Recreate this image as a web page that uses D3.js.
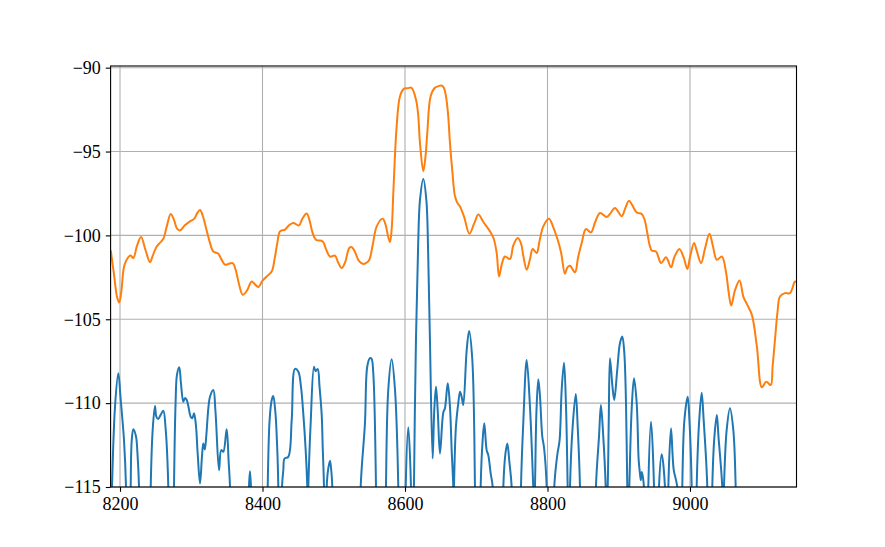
<!DOCTYPE html>
<meta charset="utf-8">
<style>
  body { margin: 0; background: #fff; }
  .grid line { stroke: #b0b0b0; stroke-width: 1.1px; }
  .line { fill: none; stroke-width: 2px; stroke-linejoin: round; }
  .tick text { font-family: "Liberation Serif", "DejaVu Serif", serif; font-size: 18px; fill: #000; }
</style>
<body>
<script src="https://d3js.org/d3.v7.min.js"></script>
<script>
  // tick labels
  var xTicks = [8200, 8400, 8600, 8800, 9000];
  var yTicks = [-115, -110, -105, -100, -95, -90];

  // blue series: [frequency, level]; values below -115 fall outside the axes
  var blueSeries = [
    [8186, -122], [8188.8, -115], [8193, -110.2], [8197.6, -108.22], [8201, -109.8], [8203.8, -111.2], [8205.6, -112.2], [8208.4, -115], [8209.5, -121],
    [8214, -121], [8215, -115], [8216.5, -112.2], [8218.7, -111.56], [8222.5, -112.0], [8224.5, -113], [8226.7, -115], [8228, -121],
    [8242, -121], [8243.1, -115], [8246, -111.5], [8249.1, -110.17], [8251, -110.8], [8253.7, -110.95], [8257, -110.7], [8260.8, -110.45], [8264, -111.5], [8267.8, -115], [8269, -121],
    [8274.8, -121], [8275.8, -115], [8278, -110], [8280, -108.3], [8283.2, -107.86], [8285.5, -108.8], [8288.8, -109.92], [8291, -109.7], [8293.5, -109.8],
    [8296, -110.2], [8299.2, -110.81], [8301.5, -110.9], [8303.9, -110.6], [8306.5, -111.3], [8309, -113], [8312.3, -114.79], [8315, -113.2], [8316.9, -112.4],
    [8319, -112.76], [8321, -112], [8324, -110.3], [8326.3, -109.62], [8331, -109.22], [8334, -110.5], [8339, -114.0], [8342, -112.8], [8345, -112.9],
    [8349.7, -111.56], [8352.5, -113.5], [8354.4, -115], [8356, -121],
    [8379.8, -121], [8381, -115], [8382.4, -114.06], [8383.8, -115], [8385, -121],
    [8406, -121], [8407.3, -115], [8410, -111], [8413, -109.8], [8415.1, -109.58], [8418, -110.5], [8420.5, -112.5], [8422.2, -115], [8423.5, -121],
    [8426.5, -121], [8427.4, -115], [8429.2, -114.0], [8431, -113.3], [8436.2, -113.2], [8441, -111.0], [8445.6, -107.96], [8450.2, -108.12], [8454, -109.02],
    [8457.2, -110.6], [8460.6, -112.8], [8462.9, -115], [8463.6, -116.5],
    [8464.3, -115], [8467.6, -111.2], [8472.3, -107.83], [8474.5, -108.1], [8477.5, -107.96], [8480, -109], [8483.1, -110.71], [8484.5, -112.6], [8486.3, -115], [8487.5, -121],
    [8489, -121], [8490.1, -115], [8492, -114], [8494.7, -113.44], [8496.5, -114], [8498, -115], [8499, -121],
    [8536.8, -121], [8537.8, -115], [8543.8, -111.2], [8547, -107.83], [8550.8, -107.32], [8553, -107.35], [8555.5, -108.22], [8559.3, -115], [8560.5, -121],
    [8572.3, -121], [8573.3, -115], [8576.5, -109.22], [8581.3, -107.38], [8586, -109.22], [8590.6, -115], [8591.8, -121],
    [8600, -121], [8601, -115], [8604.6, -111.44], [8608.4, -115], [8609.4, -121],
    [8611.6, -121], [8612.6, -115], [8615.4, -106.2], [8618.5, -100.5], [8621, -97.9], [8625.7, -96.63], [8630, -97.9], [8632.5, -101], [8635, -106.2],
    [8638.8, -113.3], [8641, -110.5], [8643.5, -109.02], [8646, -110.5], [8649.1, -113.0], [8653.7, -110.57], [8656.1, -110.3], [8660, -108.82],
    [8663.1, -110.2], [8665.5, -112.8], [8667.8, -115], [8668.3, -117],
    [8668.8, -115], [8671.5, -111.41], [8674.8, -110.0], [8677.2, -109.32], [8679.5, -109.62], [8681.8, -110.11], [8686.6, -106.83], [8690, -105.7],
    [8694.5, -107.43], [8698.2, -115], [8699.3, -121],
    [8705.2, -121], [8706.2, -115], [8709, -112.2], [8711.3, -111.2], [8714.6, -112.8], [8716.9, -113.1], [8720.3, -114.2], [8723.1, -115], [8724, -121],
    [8737, -121], [8738, -115], [8741, -113], [8743.6, -112.4], [8746.5, -113.5], [8749.7, -115], [8750.7, -121],
    [8761.8, -121], [8762.8, -115], [8766, -111.2], [8770.8, -107.43], [8775.4, -110.2], [8780, -115], [8781.2, -116.5],
    [8782.4, -115], [8784.5, -110.5], [8787.1, -108.58], [8789.5, -109.62], [8792.7, -112.0], [8795, -112.6], [8798.9, -115], [8800, -121],
    [8808.5, -121], [8809.5, -115], [8813.7, -113.1], [8817, -112.2], [8819.9, -109.22], [8823.2, -107.59], [8826, -110.2], [8828.3, -115], [8829.4, -118],
    [8830.6, -121], [8831.6, -115], [8835.3, -111.41], [8839.7, -109.46], [8842.4, -111.41], [8845.6, -115], [8846.6, -121],
    [8867, -121], [8868, -115], [8872.3, -112.0], [8875, -110.11], [8878.3, -112], [8881.7, -115], [8882.5, -117],
    [8884.5, -115], [8886, -111], [8887.7, -107.32], [8891.2, -109.02], [8893.7, -109.81], [8897.9, -108.02], [8901.7, -106.43], [8905, -106.03],
    [8907.8, -107.0], [8910.2, -110.0], [8912, -115], [8913.4, -117],
    [8914.8, -115], [8918.1, -110.41], [8921.4, -108.52], [8925.2, -110.0], [8928, -113.4], [8929.8, -114.2], [8931, -114.6], [8932.3, -114.1], [8935.4, -115], [8936.4, -121],
    [8940.5, -121], [8941.5, -115], [8945.3, -111.11], [8949.5, -115], [8950.5, -121],
    [8955.5, -121], [8956.5, -115], [8960.3, -113.04], [8964.9, -115], [8965.9, -121],
    [8968.6, -121], [8969.6, -115], [8973.4, -111.5], [8975.5, -113], [8977.2, -114.0], [8982.2, -115], [8983.2, -121],
    [8988.2, -121], [8989.2, -115], [8992.2, -111.0], [8996.8, -109.62], [8999.2, -111.0], [9002.4, -115], [9003.4, -121],
    [9008.4, -121], [9009.4, -115], [9013, -111.0], [9016.4, -109.38], [9019.2, -111.0], [9024.3, -115], [9025.3, -121],
    [9030.3, -121], [9031.3, -115], [9034.3, -112.0], [9037.7, -110.71], [9040, -112.0], [9045.3, -115], [9046.3, -118],
    [9047.7, -115], [9051.5, -111.6], [9056.1, -110.31], [9060.8, -111.6], [9064.1, -115], [9065.1, -121],
    [9146, -121], [9150, -114.8]
  ];

  // orange series: [frequency, level]
  var orangeSeries = [
    [8187, -100.9], [8191.5, -102.3], [8196, -103.7], [8199, -104.0], [8202, -103.3], [8206, -101.8], [8211.7, -101.3], [8215, -101.2], [8218.7, -101.35],
    [8224, -100.6], [8229.5, -100.1], [8236, -100.9], [8242.1, -101.6], [8246, -101.2], [8251.5, -100.66], [8256, -100.45], [8260.8, -100.2], [8266, -99.4],
    [8271.2, -98.72], [8276, -99.1], [8280, -99.6], [8284.2, -99.7], [8291, -99.4], [8298.2, -99.16], [8304.3, -99.0], [8308, -98.7], [8312.3, -98.48],
    [8316, -98.8], [8321, -99.6], [8326, -100.4], [8331, -100.96], [8338, -101.09], [8342, -101.4], [8347.4, -101.75], [8352, -101.7], [8358.2, -101.65],
    [8362, -102.0], [8367, -102.9], [8372.2, -103.54], [8378, -103.3], [8384.8, -102.75], [8389, -102.9], [8394.1, -103.08], [8400, -102.7], [8405.9, -102.45],
    [8412.9, -102.15], [8417, -101.4], [8421, -100.4], [8424.6, -99.76], [8431.6, -99.66], [8437, -99.4], [8443.2, -99.26], [8451.2, -99.4], [8456, -99.0],
    [8462, -98.7], [8466, -99.1], [8470, -99.8], [8475, -100.26], [8484.5, -100.36], [8489, -100.8], [8494.7, -101.26], [8501.7, -101.21], [8506, -101.6],
    [8511.2, -101.95], [8516, -101.6], [8521.8, -100.75], [8525.2, -100.7], [8530, -101.0], [8535, -101.5], [8541.5, -101.7], [8547, -101.6], [8550, -101.45],
    [8555, -100.5], [8560.3, -99.46], [8568.7, -99.0], [8573, -99.4], [8576, -100.0], [8579, -100.4], [8581.5, -99.5], [8583.6, -97.47], [8588.3, -93.5],
    [8593, -91.7], [8598.6, -91.25], [8604, -91.22], [8609.2, -91.2], [8615.4, -91.9], [8618.5, -92.8], [8621, -94.48], [8625.7, -96.18], [8629, -95.2],
    [8631.3, -93.88], [8636, -91.7], [8642, -91.2], [8647, -91.1], [8651.5, -91.06], [8654.5, -91.2], [8657.5, -91.7], [8660.5, -92.8], [8663.1, -94.48],
    [8666.5, -96.2], [8670.2, -97.67], [8674, -98.1], [8677.2, -98.27], [8683, -98.9], [8690.4, -99.9], [8697, -99.3], [8703, -98.76], [8710, -99.2],
    [8719.3, -99.76], [8724.5, -100.2], [8728.7, -101.05], [8732, -102.45], [8736, -101.7], [8740.3, -101.26], [8747.3, -101.41], [8752, -100.6], [8758.2, -100.16],
    [8763, -100.5], [8766, -101.2], [8770.8, -102.05], [8775, -101.5], [8779.2, -100.81], [8784.8, -101.05], [8789, -100.3], [8794.1, -99.46], [8802.1, -99.0],
    [8808, -99.5], [8814.3, -100.26], [8819, -101.0], [8824.5, -102.29], [8828, -101.9], [8831.6, -101.81], [8838.6, -102.2], [8843, -101.3], [8848, -100.45],
    [8854, -99.62], [8861, -99.82], [8867, -99.2], [8873.7, -98.66], [8883.1, -98.9], [8888, -98.7], [8894.7, -98.36], [8904.2, -98.86], [8909, -98.4],
    [8914.4, -97.93], [8919, -98.2], [8925.2, -98.63], [8932.3, -98.72], [8936.5, -99.1], [8940.1, -99.86], [8943.5, -100.6], [8946.3, -100.9], [8952.3, -100.96],
    [8959.4, -101.65], [8966.4, -101.3], [8973.4, -101.9], [8978, -101.3], [8985.1, -100.81], [8991, -101.3], [8996.3, -102.0], [9000, -101.3], [9005.7, -100.45],
    [9010, -101.0], [9015.6, -101.65], [9021, -100.8], [9027.3, -99.9], [9032, -100.6], [9037.7, -101.45], [9044.7, -101.26], [9050.8, -102.25], [9054, -103.3],
    [9057.8, -104.18], [9063, -103.3], [9069.5, -102.69], [9075.1, -103.68], [9080, -104.1], [9086.9, -104.74], [9093.9, -106.63], [9100.9, -109.06],
    [9107, -108.72], [9113.3, -108.92], [9116, -107.8], [9119.3, -106.23], [9123, -104.5], [9126.3, -103.64], [9133.3, -103.44], [9140.3, -103.44],
    [9147.5, -102.75], [9150, -102.8]
  ];

  // figure and axes box
  var W = 885, H = 547;
  var margin = { top: 66, right: 88.5, bottom: 60, left: 110.6 },
    width = W - margin.left - margin.right,
    height = H - margin.top - margin.bottom;

  var x = d3.scaleLinear().domain([8186.8, 9149.5]).range([0, width]);
  var y = d3.scaleLinear().domain([-115, -89.9]).range([height, 0]);

  var svg = d3.select("body").append("svg")
    .attr("width", W)
    .attr("height", H)
    .append("g")
    .attr("transform", "translate(" + margin.left + "," + margin.top + ")");

  svg.append("defs").append("clipPath").attr("id", "clip")
    .append("rect").attr("width", width).attr("height", height);

  // grid lines
  svg.append("g").attr("class", "grid")
    .selectAll("line").data(xTicks).enter().append("line")
    .attr("x1", function(d) { return x(d); }).attr("x2", function(d) { return x(d); })
    .attr("y1", 0).attr("y2", height);
  svg.append("g").attr("class", "grid")
    .selectAll("line").data(yTicks).enter().append("line")
    .attr("y1", function(d) { return y(d); }).attr("y2", function(d) { return y(d); })
    .attr("x1", 0).attr("x2", width);

  var line = d3.line()
    .curve(d3.curveCatmullRom.alpha(0.5))
    .x(function(d) { return x(d[0]); })
    .y(function(d) { return y(d[1]); });

  var plot = svg.append("g").attr("clip-path", "url(#clip)");
  plot.append("path").datum(blueSeries).attr("class", "line")
    .attr("stroke", "#1f77b4").attr("d", line);
  plot.append("path").datum(orangeSeries).attr("class", "line")
    .attr("stroke", "#ff7f0e").attr("d", line);

  // axes
  var minus = function(d) { return d < 0 ? "\u2212" + Math.abs(d) : d; };
  var xAxis = svg.append("g")
    .attr("transform", "translate(0," + height + ")")
    .call(d3.axisBottom(x).tickValues(xTicks).tickSize(4.8).tickPadding(5).tickFormat(d3.format("d")));
  var yAxis = svg.append("g")
    .call(d3.axisLeft(y).tickValues(yTicks).tickSize(4.8).tickPadding(5).tickFormat(minus));
  [xAxis, yAxis].forEach(function(a) {
    a.select(".domain").remove();
    a.selectAll(".tick line").attr("stroke", "#000").attr("stroke-width", 1.1);
  });

  // frame
  svg.append("rect")
    .attr("width", width).attr("height", height)
    .attr("fill", "none").attr("stroke", "#000").attr("stroke-width", 1.1);
</script>
</body>
